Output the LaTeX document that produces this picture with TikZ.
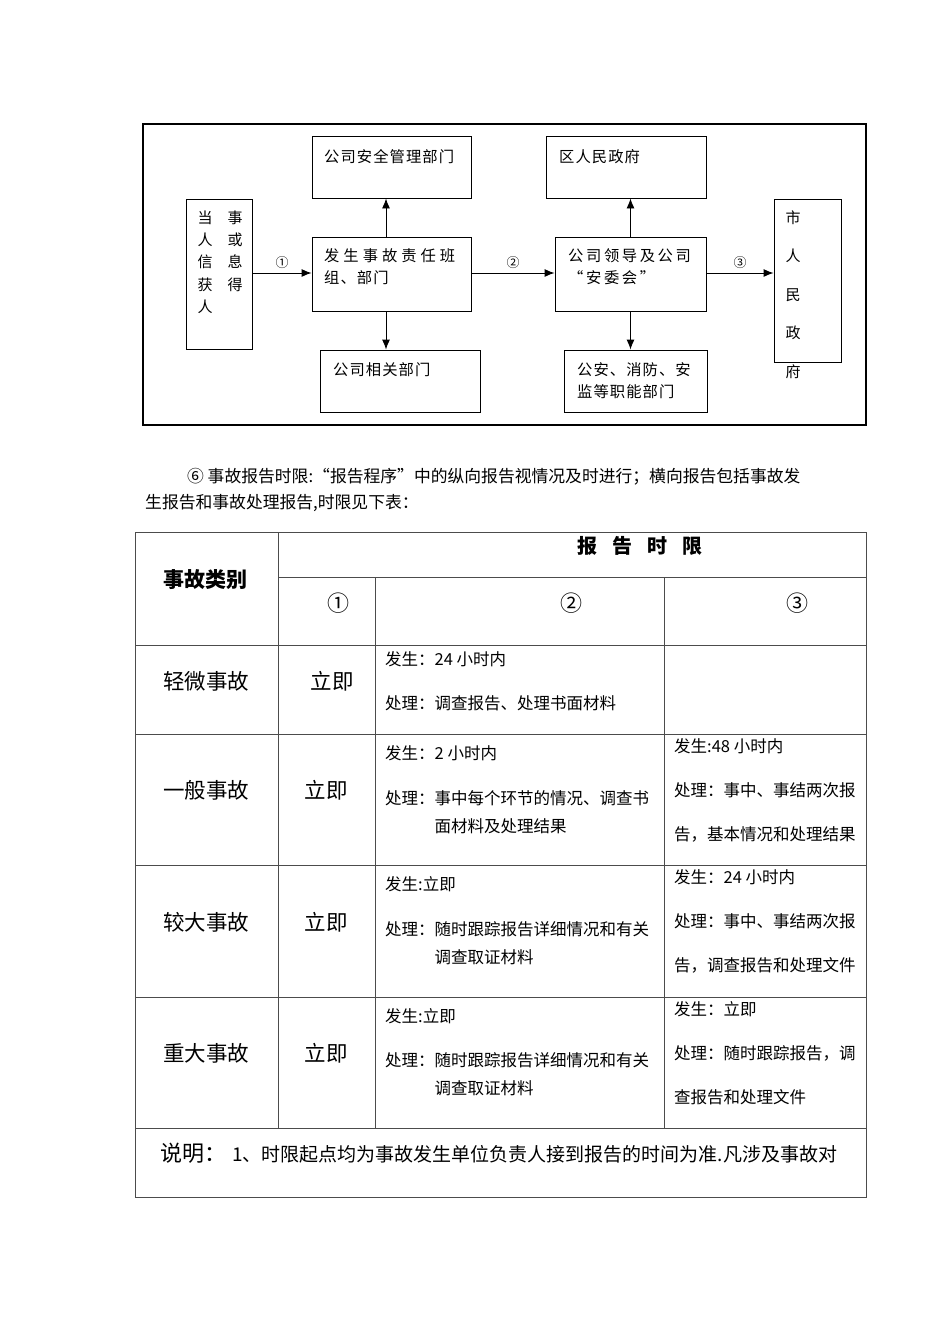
\documentclass[tikz,border=0pt]{standalone}
\usepackage{fontspec}
\setmainfont{Noto Sans CJK SC}
\usetikzlibrary{arrows.meta}

\begin{document}
\begin{tikzpicture}[x=1pt, y=-1pt,
    box/.style 2 args={draw, line width=0.9pt, inner sep=0pt, minimum width=#1, minimum height=#2},
    txt/.style={inner sep=0pt, anchor=west, align=left, font=\fontsize{15.3}{22}\selectfont\addfontfeature{LetterSpace=7}},
    num/.style={inner sep=1pt, above=3pt, font=\fontsize{13}{13}\selectfont},
    arr/.style={-{Latex[length=10pt,width=8pt]}, line width=0.9pt},
    grid/.style={line width=0.8pt, black!70},
    cell/.style={inner sep=0pt, anchor=north west, align=left, font=\fontsize{16.5}{28}\selectfont},
    big/.style={inner sep=0pt, font=\fontsize{21.5}{24}\selectfont},
    head/.style={inner sep=0pt, font=\bfseries\fontsize{21}{24}\selectfont}]
\useasboundingbox (0,0) rectangle (950,1344);

% reporting flow
\draw[line width=1.1pt] (143,124) rectangle (866,425);
\node[box={66}{150}] (informant) at (219,274) {};
\node[box={159}{62}] (safety) at (391.5,167) {};
\node[box={159}{74}] (duty) at (391.5,274) {};
\node[box={160}{62}] (related) at (400,381) {};
\node[box={160}{62}] (district) at (626,167) {};
\node[box={151}{74}] (leader) at (630.5,274) {};
\node[box={143}{62}] (organs) at (635.5,381) {};
\node[box={67}{163}] (city) at (807.5,280.5) {};

\node[txt, anchor=north west, font=\fontsize{15}{22.3}\selectfont] (informantT) at (197.5,210.5) {当　事\\人　或\\信　息\\获　得\\人};
\node[txt] (safetyT) at (324,157) {公司安全管理部门};
\node[txt, anchor=north west] (dutyT) at (324,248.5) {{\addfontfeature{LetterSpace=26}发生事故责任班}\\组、部门};
\node[txt] (relatedT) at (333,370) {公司相关部门};
\node[txt] (districtT) at (559,157) {区人民政府};
\node[txt, anchor=north west, font=\fontsize{15.3}{22}\selectfont\addfontfeature{LetterSpace=17}] (leaderT) at (568,248.5) {公司领导及公司\\“安委会”};
\node[txt, anchor=north west] (organsT) at (577,362.5) {公安、消防、安\\监等职能部门};
\node[txt, anchor=north, align=center, font=\fontsize{15}{38.5}\selectfont] (cityT) at (793,210.5) {市\\人\\民\\政\\府};

\draw[arr] (informant.east |- 0,273) -- node[num] {①} (duty.west |- 0,273);
\draw[arr] (duty.east |- 0,273) -- node[num] {②} (leader.west |- 0,273);
\draw[arr] (leader.east |- 0,273) -- node[num] {③} (city.west |- 0,273);
\draw[arr] ([xshift=-5.5pt]duty.north) -- ([xshift=-5.5pt]safety.south);
\draw[arr] ([xshift=-5.5pt]duty.south) -- ([xshift=-5.5pt]duty.south |- related.north);
\draw[arr] (leader.north) -- (leader.north |- district.south);
\draw[arr] (leader.south) -- (leader.south |- organs.north);

% paragraph
\node[inner sep=0pt, anchor=west, font=\fontsize{16.8}{16}\selectfont] (para1) at (187,477) {⑥ 事故报告时限:“报告程序”中的纵向报告视情况及时进行；横向报告包括事故发};
\node[inner sep=0pt, anchor=west, font=\fontsize{16.8}{16}\selectfont] (para2) at (145,503) {生报告和事故处理报告,时限见下表：};

% time limit table
\draw[grid] (135,532) rectangle (866,1197);
\draw[grid] (278,577) -- (866,577);
\foreach \y in {645,734,865,997,1128} \draw[grid] (135,\y) -- (866,\y);
\draw[grid] (278,532) -- (278,1128);
\foreach \x in {375,664} \draw[grid] (\x,577) -- (\x,1128);

\node[head, font=\bfseries\fontsize{20}{24}\selectfont] (limitH) at (640,546) {报\hspace{15pt}告\hspace{15pt}时\hspace{15pt}限};
\node[head] (kindH) at (205,580) {事故类别};
\node[big, font=\fontsize{22}{24}\selectfont] (stepA) at (338,603) {①};
\node[big, font=\fontsize{22}{24}\selectfont] (stepB) at (571,603) {②};
\node[big, font=\fontsize{22}{24}\selectfont] (stepC) at (797,603) {③};

\foreach \y/\k/\t/\ix in {681/a/轻微事故/332, 790/b/一般事故/326, 922/c/较大事故/326, 1053/d/重大事故/326} {
  \node[big] (kind\k) at (206,\y) {\t};
  \node[big] (now\k) at (\ix,\y) {立即};
}

\node[cell] (twoA) at (385,651) {发生：24 小时内\\[16pt]处理：调查报告、处理书面材料};
\node[cell] (twoB) at (385,745) {发生：2 小时内\\[17pt]处理：事中每个环节的情况、调查书\\\hspace*{3em}面材料及处理结果};
\node[cell] (threeB) at (674,738) {发生:48 小时内\\[16pt]处理：事中、事结两次报\\[16pt]告，基本情况和处理结果};
\node[cell] (twoC) at (385,876) {发生:立即\\[17pt]处理：随时跟踪报告详细情况和有关\\\hspace*{3em}调查取证材料};
\node[cell] (threeC) at (674,869) {发生：24 小时内\\[16pt]处理：事中、事结两次报\\[16pt]告，调查报告和处理文件};
\node[cell] (twoD) at (385,1008) {发生:立即\\[16pt]处理：随时跟踪报告详细情况和有关\\\hspace*{3em}调查取证材料};
\node[cell] (threeD) at (674,1001) {发生：立即\\[16pt]处理：随时跟踪报告，调\\[16pt]查报告和处理文件};

\node[inner sep=0pt, anchor=west] (note) at (160,1153) {{\fontsize{22}{24}\selectfont 说明：}\hspace{6pt}{\fontsize{19}{24}\selectfont 1、时限起点均为事故发生单位负责人接到报告的时间为准.凡涉及事故对}};
\end{tikzpicture}
\end{document}
